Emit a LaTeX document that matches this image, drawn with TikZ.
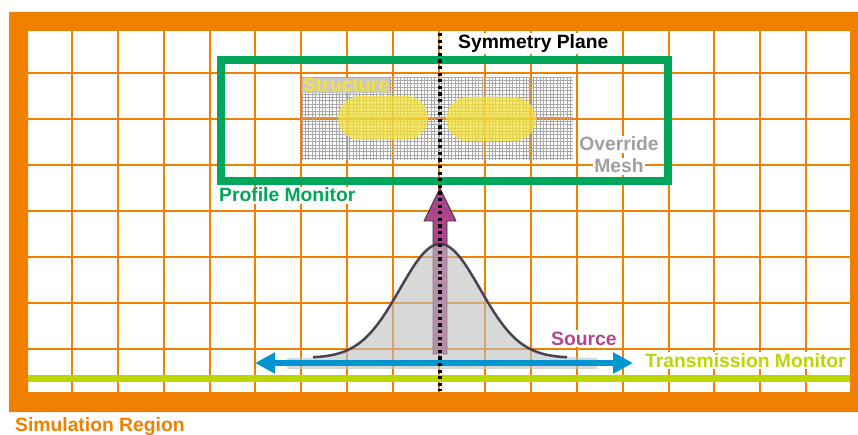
\documentclass[tikz,border=0pt]{standalone}
\usepackage{fontspec}
\setmainfont{Liberation Sans}
\usetikzlibrary{arrows.meta}

\definecolor{simorange}{RGB}{240,128,0}
\definecolor{profgreen}{RGB}{0,166,90}
\definecolor{meshgrey}{RGB}{170,170,170}
\definecolor{overgrey}{RGB}{160,160,160}
\definecolor{structyellow}{RGB}{245,225,55}
\definecolor{srcmagenta}{RGB}{172,70,140}
\definecolor{srctext}{RGB}{176,72,142}
\definecolor{beamblue}{RGB}{0,150,210}
\definecolor{tranlime}{RGB}{190,214,0}
\definecolor{curvedark}{RGB}{75,65,85}
\definecolor{gaussfill}{RGB}{190,190,190}
\definecolor{labelgrey}{RGB}{200,200,200}

\tikzset{
  gridline/.style={simorange, line width=1.8pt},
  meshline/.style={meshgrey, line width=0.65pt},
  lbl/.style={font=\bfseries\fontsize{19.3}{22}\selectfont, inner sep=1.5pt, fill=white},
  stadium/.style={fill=structyellow, fill opacity=0.75, rounded corners=22pt},
}

\begin{document}
\begin{tikzpicture}[x=1pt,y=-1pt]
\useasboundingbox (0,0) rectangle (858,435);
\fill[white] (0,0) rectangle (858,435);

% simulation grid
\foreach \k in {1,...,17}
  \draw[gridline] ({round(26+45.9*\k)},31) -- ({round(26+45.9*\k)},392);
\foreach \k in {1,...,7}
  \draw[gridline] (28,{27+46*\k}) -- (850,{27+46*\k});

% override mesh
\foreach \x in {302,305.4,...,573.5}
  \draw[meshline] (\x,77) -- (\x,160);
\foreach \y in {77,80.4,...,160.5}
  \draw[meshline] (302,\y) -- (573,\y);
\node[font=\bfseries\fontsize{19.3}{22}\selectfont, text=structyellow, fill=labelgrey,
      inner sep=1pt, anchor=base west] (structure) at (302,92) {Structure};

% structure pieces
\fill[stadium] (338,96) rectangle (428,140);
\fill[stadium] (446,97) rectangle (536,141);

% profile monitor
\draw[profgreen, line width=7.5pt] (221,60) rectangle (668,181);

% source direction arrow
\filldraw[fill=srcmagenta, draw=black!80, line width=0.8pt]
  (433,354) -- (433,221) -- (424,221) -- (440,188) -- (456,221) -- (447,221) -- (447,354) -- cycle;

% gaussian source profile
\fill[gaussfill, fill opacity=0.6]
  (287,369) -- (287,358) -- (313,358)
  -- plot[domain=313:567, samples=90] (\x,{358-114*exp(-((\x-440)/40)^2/2)})
  -- (597,358) -- (597,369) -- cycle;
\draw[curvedark, line width=2.5pt]
  plot[domain=313:567, samples=90] (\x,{358-114*exp(-((\x-440)/40)^2/2)});

% polarisation / extent arrow
\coordinate (bl) at (255,363);
\coordinate (br) at (633,363);
\draw[beamblue, line width=6pt, {Triangle[length=20pt,width=20pt]}-{Triangle[length=20pt,width=20pt]}] (bl) -- (br);

% transmission monitor
\draw[tranlime, line width=7pt] (28,378) -- (850,378);

% simulation region frame
\fill[simorange, even odd rule] (9,12) rectangle (858,412) (28,31) rectangle (850,392);

% symmetry plane
\coordinate (symtop) at (440,33);
\coordinate (symbot) at (440,391);
\draw[black, line width=3.2pt, dash pattern=on 3.2pt off 3.4pt] (symtop) -- (symbot);

% labels
\node[lbl, text=black, anchor=base west] (symlabel) at (456.5,48.5) {Symmetry Plane};
\node[lbl, text=profgreen, anchor=base west] (proflabel) at (217.5,202) {Profile Monitor};
\node[lbl, text=overgrey, anchor=base] (override) at (619,151) {Override};
\node[lbl, text=overgrey, anchor=base] (meshlabel) at (619,173) {Mesh};
\node[lbl, text=srctext, anchor=base west] (source) at (549.5,345) {Source};
\node[lbl, text=tranlime, anchor=base west] (translabel) at (643.5,367) {Transmission Monitor};
\node[lbl, text=simorange, anchor=base west] (simlabel) at (13.5,431) {Simulation Region};
\end{tikzpicture}
\end{document}
